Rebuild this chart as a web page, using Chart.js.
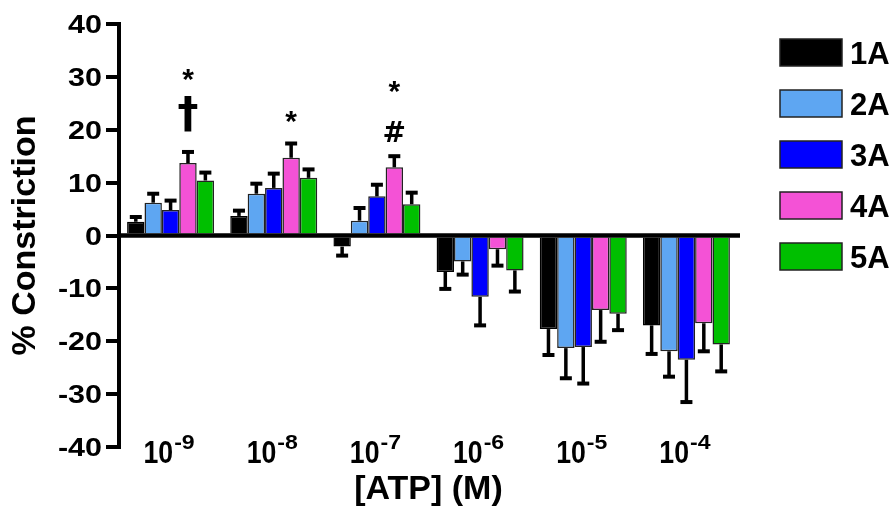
<!DOCTYPE html>
<html>
<head>
<meta charset="utf-8">
<script src="https://cdn.jsdelivr.net/npm/chart.js"></script>
<style>
  body { margin: 0; background: #fff; }
  canvas { display: block; }
</style>
</head>
<body>
<canvas id="chart" width="896" height="510"></canvas>
<script>
// ATP exponents (10^x M)
const exponents = ['-9', '-8', '-7', '-6', '-5', '-4'];
const seriesNames = ['1A', '2A', '3A', '4A', '5A'];
const seriesColors = ['#000000', '#5ea6f2', '#0000ff', '#f452d6', '#00bf00'];

// mean % constriction per series
const mean1A = [2.6, 3.7, -2.1, -6.9, -17.7, -17.0];
const mean2A = [6.2, 7.9, 2.8, -4.9, -21.3, -21.9];
const mean3A = [4.8, 9.0, 7.4, -11.6, -21.1, -23.5];
const mean4A = [13.7, 14.7, 12.9, -2.6, -14.1, -16.6];
const mean5A = [10.4, 10.9, 5.9, -6.6, -14.8, -20.6];

// SEM (drawn away from zero)
const err1A = [0.9, 1.0, 1.7, 3.2, 4.9, 5.4];
const err2A = [1.7, 1.9, 2.4, 2.5, 5.7, 4.8];
const err3A = [1.8, 2.7, 2.2, 5.4, 6.9, 8.0];
const err4A = [2.1, 2.7, 2.1, 3.1, 6.0, 5.3];
const err5A = [1.5, 1.6, 2.2, 4.0, 3.1, 5.1];

// significance marks above the 4A bars
const markLower = ['†', '*', '#', '', '', ''];
const markUpper = ['*', '', '*', '', '', ''];

const yTicks = [-40, -30, -20, -10, 0, 10, 20, 30, 40];

const means = [mean1A, mean2A, mean3A, mean4A, mean5A];
const errs = [err1A, err2A, err3A, err4A, err5A];
const FONT = '"Liberation Sans", Arial, sans-serif';

function stretchText(ctx, text, x, y, sx, align) {
    ctx.save();
    ctx.translate(x, y);
    ctx.scale(sx, 1);
    ctx.textAlign = align;
    ctx.fillText(text, 0, 0);
    ctx.restore();
}

function markFont(t) {
    // dagger and hash are heavier in the original
    if (t === '†') return 'bold 42px "DejaVu Sans", ' + FONT;
    if (t === '#') return 'bold 28px "DejaVu Sans", ' + FONT;
    return 'bold 30px ' + FONT;
}

// zero line, error bars and marks
const overlayPlugin = {
    id: 'overlay',
    afterDatasetsDraw(chart) {
        const ctx = chart.ctx;
        const y = chart.scales.y;
        const area = chart.chartArea;
        const y0 = y.getPixelForValue(0);

        ctx.save();
        ctx.strokeStyle = '#000';
        ctx.lineWidth = 4.5;
        ctx.beginPath();
        ctx.moveTo(area.left, y0);
        ctx.lineTo(area.right + 2, y0);
        ctx.stroke();

        // error bars
        chart.data.datasets.forEach((ds, d) => {
            const meta = chart.getDatasetMeta(d);
            meta.data.forEach((bar, i) => {
                const v = means[d][i];
                const e = errs[d][i];
                const dir = v >= 0 ? 1 : -1;
                const yEnd = y.getPixelForValue(v + dir * e);
                ctx.lineWidth = 3.5;
                ctx.beginPath();
                ctx.moveTo(bar.x, bar.y);
                ctx.lineTo(bar.x, yEnd);
                ctx.stroke();
                ctx.lineWidth = 4;
                ctx.beginPath();
                ctx.moveTo(bar.x - 6, yEnd);
                ctx.lineTo(bar.x + 6, yEnd);
                ctx.stroke();
            });
        });

        // marks over 4A
        const meta4 = chart.getDatasetMeta(3);
        ctx.fillStyle = '#000';
        ctx.textAlign = 'center';
        ctx.textBaseline = 'alphabetic';
        meta4.data.forEach((bar, i) => {
            if (!markLower[i]) return;
            const top = y.getPixelForValue(mean4A[i] + err4A[i]) - 2;
            ctx.font = markFont(markLower[i]);
            let m = ctx.measureText(markLower[i]);
            let bottom = top - (markLower[i] === '#' ? 12 : 18);
            ctx.fillText(markLower[i], bar.x, bottom - m.actualBoundingBoxDescent);
            const glyphTop = bottom - m.actualBoundingBoxDescent - m.actualBoundingBoxAscent;
            if (markUpper[i]) {
                ctx.font = markFont(markUpper[i]);
                m = ctx.measureText(markUpper[i]);
                bottom = glyphTop - (markLower[i] === '#' ? 28 : 15);
                ctx.fillText(markUpper[i], bar.x, bottom - m.actualBoundingBoxDescent);
            }
        });
        ctx.restore();
    },
    afterDraw(chart) {
        const ctx = chart.ctx;
        const y = chart.scales.y;
        const x = chart.scales.x;
        const area = chart.chartArea;
        ctx.save();
        ctx.fillStyle = '#000';
        ctx.textBaseline = 'alphabetic';

        // y tick labels
        ctx.font = 'bold 25px ' + FONT;
        yTicks.forEach(t => {
            stretchText(ctx, String(t), 102, y.getPixelForValue(t) + 9, 1.22, 'right');
        });

        // x tick labels 10^x
        exponents.forEach((ex, i) => {
            const cx = x.getPixelForTick(i);
            ctx.font = 'bold 31px ' + FONT;
            const wBase = ctx.measureText('10').width * 0.86;
            ctx.font = 'bold 21px ' + FONT;
            const wExp = ctx.measureText(ex).width * 1.1;
            const left = cx - (wBase + wExp) / 2 - 2;
            ctx.font = 'bold 31px ' + FONT;
            stretchText(ctx, '10', left, 463, 0.86, 'left');
            ctx.font = 'bold 21px ' + FONT;
            stretchText(ctx, ex, left + wBase + 1, 449, 1.1, 'left');
        });

        // axis titles
        ctx.font = 'bold 34px ' + FONT;
        ctx.textAlign = 'center';
        ctx.textBaseline = 'middle';
        ctx.fillText('[ATP] (M)', (area.left + area.right) / 2, 490);
        ctx.save();
        ctx.translate(26, (area.top + area.bottom) / 2);
        ctx.rotate(-Math.PI / 2);
        ctx.fillText('% Constriction', 0, 0);
        ctx.restore();

        // legend
        ctx.textAlign = 'left';
        ctx.textBaseline = 'alphabetic';
        ctx.font = 'bold 31px ' + FONT;
        chart.data.datasets.forEach((ds, d) => {
            const top = 39 + d * 51;
            ctx.fillStyle = ds.backgroundColor;
            ctx.fillRect(780, top, 62, 27);
            ctx.strokeStyle = '#222';
            ctx.lineWidth = 1.5;
            ctx.strokeRect(780, top, 62, 27);
            ctx.fillStyle = '#000';
            ctx.fillText(ds.label, 850, top + 13.5 + 11);
        });
        ctx.restore();
    }
};

new Chart(document.getElementById('chart'), {
    type: 'bar',
    data: {
        labels: exponents.map(e => '10^' + e),
        datasets: seriesNames.map((name, d) => ({
            label: name,
            data: means[d],
            backgroundColor: seriesColors[d],
            borderColor: d === 0 ? '#000' : '#222',
            borderWidth: 1.5,
            categoryPercentage: 0.843,
            barPercentage: 1.0
        }))
    },
    options: {
        responsive: false,
        animation: false,
        devicePixelRatio: 1,
        layout: { padding: { left: 0, right: 158, top: 24, bottom: 63 } },
        plugins: {
            legend: { display: false },
            tooltip: { enabled: false }
        },
        scales: {
            x: { display: false },
            y: {
                min: -40,
                max: 40,
                ticks: { stepSize: 10, display: false },
                grid: {
                    display: true,
                    drawOnChartArea: false,
                    drawTicks: true,
                    tickLength: 13,
                    lineWidth: 4,
                    color: '#000'
                },
                border: { display: true, width: 4, color: '#000' },
                afterFit(scale) { scale.width = 119; }
            }
        }
    },
    plugins: [overlayPlugin]
});
</script>
</body>
</html>
